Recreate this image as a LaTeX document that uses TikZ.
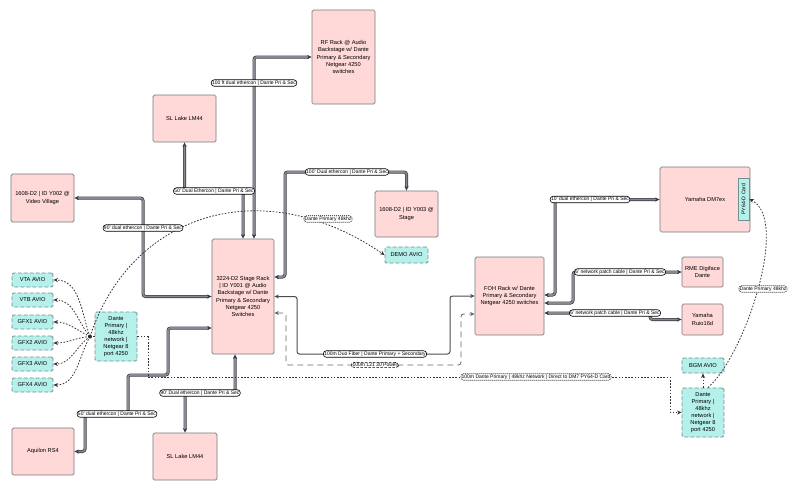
\documentclass[tikz,border=0pt]{standalone}
\usepackage{fontspec}
\setmainfont{Liberation Sans}
\usetikzlibrary{arrows.meta}
\definecolor{pinkfill}{RGB}{255,216,216}
\definecolor{pinkline}{RGB}{120,120,125}
\definecolor{cyanfill}{RGB}{182,240,234}
\definecolor{cyanline}{RGB}{110,145,145}
\definecolor{pipedark}{RGB}{55,55,65}
\definecolor{pipefill}{RGB}{135,135,145}
\begin{document}
\begin{tikzpicture}[x=1pt,y=-1pt,
  >={Stealth[length=4.5pt,width=4pt]},
  box/.style={draw=pinkline, fill=pinkfill, rounded corners=1.5pt, line width=0.7pt, align=center, font=\fontsize{5.7}{7.1}\selectfont, inner sep=1pt},
  avio/.style={draw=cyanline, fill=cyanfill, rounded corners=1.5pt, dash pattern=on 4pt off 2pt, line width=0.9pt, align=center, font=\fontsize{5.7}{7.1}\selectfont, inner sep=1pt},
  card/.style={draw=cyanline, fill=cyanfill, line width=0.7pt, align=center, font=\fontsize{5.2}{6}\selectfont, inner sep=0.5pt},
  pipe/.style={draw=pipedark, double=pipefill, double distance=1.6pt, line width=0.7pt, rounded corners=2.5pt, <->},
  fiber/.style={draw=black!70, line width=1pt, rounded corners=2.5pt, <->},
  power/.style={draw=black!60, line width=0.8pt, dash pattern=on 6pt off 4pt, rounded corners=2.5pt, <->},
  dotline/.style={draw=black!80, line width=0.8pt, dash pattern=on 1.6pt off 1.6pt},
  lbl/.style={draw=black, fill=white, rounded corners=3pt, line width=0.6pt, inner sep=0.9pt, font=\fontsize{5}{6}\selectfont},
  dotlbl/.style={lbl, dash pattern=on 1pt off 1pt},
  dashlbl/.style={lbl, dash pattern=on 2.5pt off 1.5pt}
]
\useasboundingbox (0,0) rectangle (800,491);
% nodes
\node[box, minimum width=63pt, minimum height=94pt] (rf) at (343.5,57) {RF Rack @ Audio\\Backstage w/ Dante\\Primary \& Secondary\\Netgear 4250\\switches};
\node[box, minimum width=63pt, minimum height=47pt] (slt) at (184.5,118.5) {SL Lake LM44};
\node[box, minimum width=63pt, minimum height=48pt] (vv) at (42.5,198) {1608-D2 | ID Y002 @\\Video Village};
\node[box, minimum width=62pt, minimum height=115pt] (stage) at (243,296.5) {3224-D2 Stage Rack\\| ID Y001 @ Audio\\Backstage w/ Dante\\Primary \& Secondary\\Netgear 4250\\Switches};
\node[box, minimum width=63pt, minimum height=46pt] (y003) at (406.5,214) {1608-D2 | ID Y003 @\\Stage};
\node[avio, minimum width=43pt, minimum height=16pt] (demo) at (406.5,255) {DEMO AVIO};
\node[avio, minimum width=41pt, minimum height=14pt] (vta) at (32.5,280) {VTA AVIO};
\node[avio, minimum width=41pt, minimum height=14pt] (vtb) at (32.5,300) {VTB AVIO};
\node[avio, minimum width=41pt, minimum height=14pt] (gfx1) at (32.5,322) {GFX1 AVIO};
\node[avio, minimum width=41pt, minimum height=14pt] (gfx2) at (32.5,343) {GFX2 AVIO};
\node[avio, minimum width=41pt, minimum height=14pt] (gfx3) at (32.5,364) {GFX3 AVIO};
\node[avio, minimum width=41pt, minimum height=14pt] (gfx4) at (32.5,385) {GFX4 AVIO};
\node[avio, minimum width=42pt, minimum height=49pt] (dsl) at (116,336.5) {Dante\\Primary |\\48khz\\network |\\Netgear 8\\port 4250};
\node[box, minimum width=62pt, minimum height=47pt] (aq) at (43,451.5) {Aquilon RS4};
\node[box, minimum width=64pt, minimum height=47pt] (slb) at (185,456.5) {SL Lake LM44};
\node[box, minimum width=69pt, minimum height=78pt] (foh) at (509.5,296) {FOH Rack w/ Dante\\Primary \& Secondary\\Netgear 4250 switches};
\node[box, minimum width=90pt, minimum height=65pt] (dm7) at (705,199.5) {Yamaha DM7ex};
\node[card, rotate=90, minimum width=42pt, minimum height=11pt] (py) at (743.5,199) {PY64-D Card};
\node[box, minimum width=41pt, minimum height=30pt] (rme) at (702.5,272) {RME Digiface\\Dante};
\node[box, minimum width=41pt, minimum height=31pt] (rio) at (702.5,319.5) {Yamaha\\Ruio16d};
\node[avio, minimum width=42pt, minimum height=15pt] (bgm) at (703,365.5) {BGM AVIO};
\node[avio, minimum width=42pt, minimum height=49pt] (dsr) at (703,412.5) {Dante\\Primary |\\48khz\\network |\\Netgear 8\\port 4250};
% pipes
\draw[pipe] ([xshift=11pt]stage.north) |- (rf.west);
\draw[pipe] (slt.south) -- ++(0,49) -| (stage.north);
\draw[pipe] (stage.west) -| (143,198) -- (vv.east);
\draw[pipe] ([yshift=-31.5pt]stage.west) -| (168,375) -| (128,414) -| (85,451.5) -- (aq.east);
\draw[pipe] (slb.north) -- ++(0,-40) -| ([xshift=-8pt]stage.south);
\draw[pipe] ([yshift=19.5pt]stage.east) -| (285,172) -| (y003.north);
\draw[pipe] ([yshift=1pt]foh.east) -| (555,199.5) -- (dm7.west);
\draw[pipe] ([yshift=-7pt]foh.east) -| (573,272) -- (rme.west);
\draw[pipe] ([yshift=-17pt]foh.east) -- (650,313) |- (rio.west);
\draw[fiber] (stage.east) -| (297,354) -| (450,296) -- (foh.west);
\draw[power] ([yshift=-16.5pt]stage.east) -| (286,365) -| (461,314) -- ([yshift=-18pt]foh.west);
% dotted
\coordinate (hub) at (90,336.5);
\draw[dotline] (hub) -- (dsl.west);
\draw[dotline,->] (hub) to[out=110,in=0] (vta.east);
\draw[dotline,->] (hub) to[out=130,in=0] (vtb.east);
\draw[dotline,->] (hub) to[out=155,in=0] (gfx1.east);
\draw[dotline,->] (hub) to[out=185,in=0] (gfx2.east);
\draw[dotline,->] (hub) to[out=215,in=0] (gfx3.east);
\draw[dotline,->] (hub) to[out=240,in=0] (gfx4.east);
\fill[black!85] (hub) circle (2pt);
\draw[dotline,->] (hub) .. controls (130,215) and (260,170) .. (demo.west);
\draw[dotline,->] (dsl.east) -| (148,377) -| (670,412.5) -- (dsr.west);
\draw[dotline,->] (dsr.north) -- (bgm.south);
\draw[dotline,->] ([xshift=5pt]dsr.north) .. controls (745,355) and (790,220) .. (py.south);
% labels
\node[lbl] (l1) at (254,83) {100 ft dual ethercon | Dante Pri \& Sec};
\node[lbl] (l2) at (214,191) {50' Dual Ethercon | Dante Pri \& Sec};
\node[lbl] (l3) at (143,228) {90' dual ethercon | Dante Pri \& Sec};
\node[lbl] (l4) at (347,172) {100' Dual ethercon | Dante Pri \& Sec};
\node[dotlbl] (l5) at (328,219) {Dante Primary 48khz};
\node[lbl] (l6) at (117,414) {50' dual ethercon | Dante Pri \& Sec};
\node[lbl] (l7) at (200,393) {90' Dual ethercon | Dante Pri \& Sec};
\node[lbl] (l8) at (375,354) {100m Duo Fiber | Dante Primary + Secondary};
\node[dashlbl] (l9) at (375,365) {100m L21 30 Power};
\node[dotlbl] (l10) at (536,377) {100m Dante Primary | 48khz Network | Direct to DM7 PY64-D Card};
\node[lbl] (l11) at (590,199.5) {10' dual ethercon | Dante Pri \& Sec};
\node[lbl] (l12) at (620,272) {6' network patch cable | Dante Pri \& Sec};
\node[lbl] (l13) at (615,313) {6' network patch cable | Dante Pri \& Sec};
\node[dotlbl] (l14) at (763,289) {Dante Primary 48khz};
\end{tikzpicture}
\end{document}
